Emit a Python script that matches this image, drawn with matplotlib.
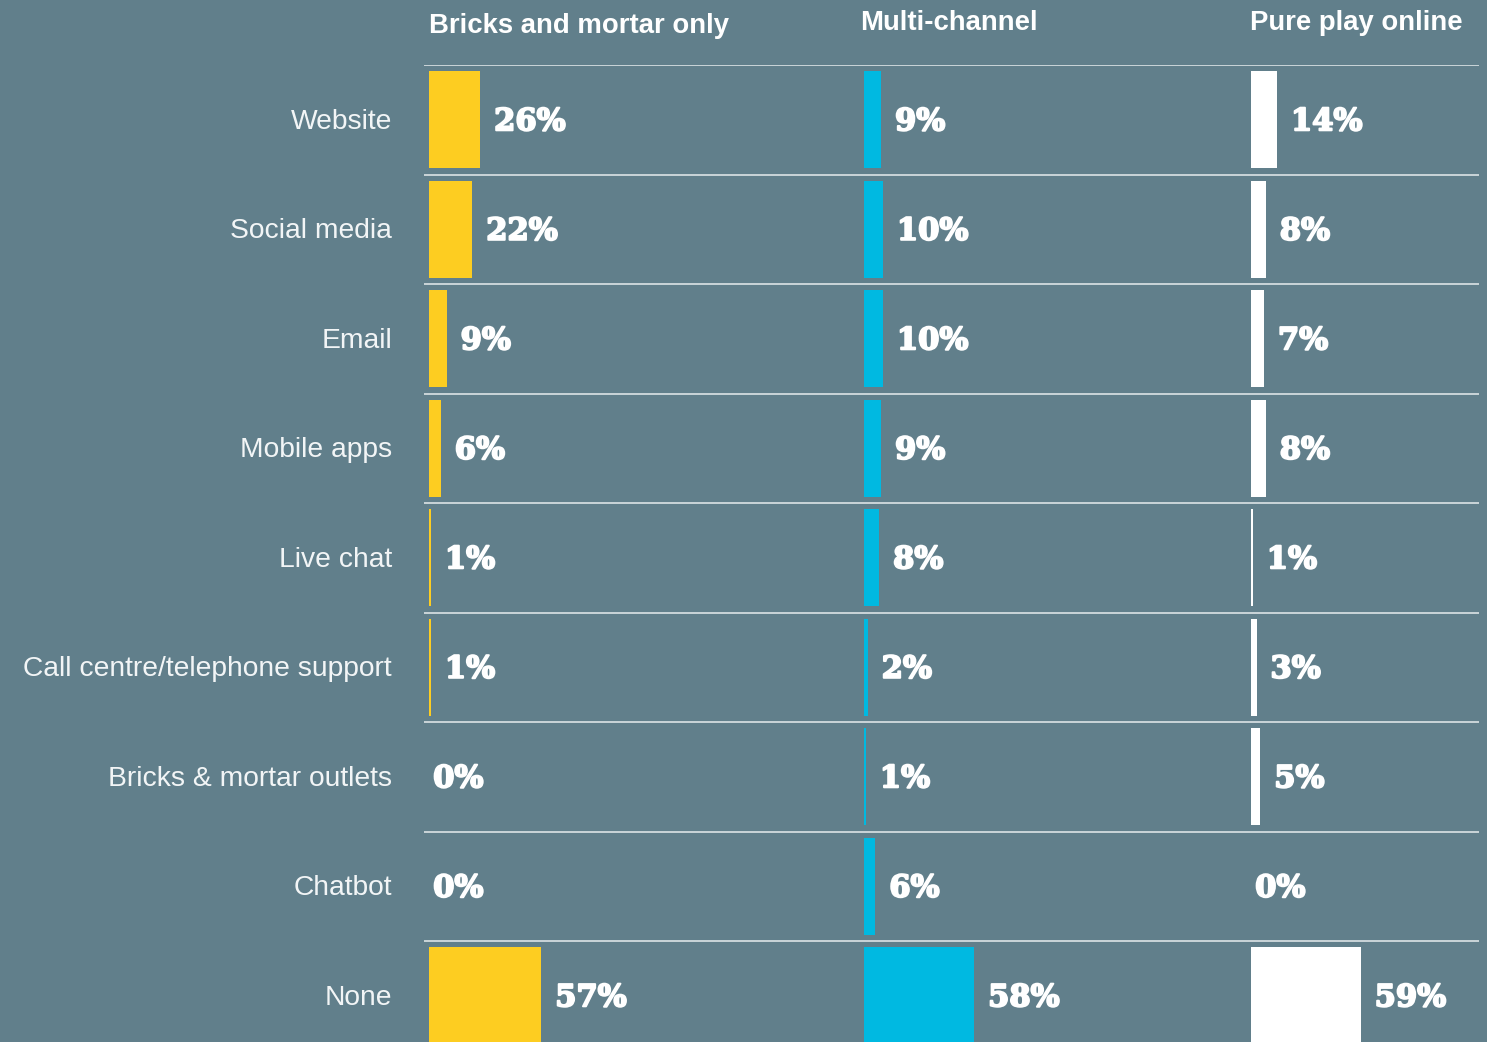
import matplotlib
matplotlib.use("Agg")
import matplotlib.pyplot as plt
import matplotlib.patheffects as pe
from matplotlib.transforms import blended_transform_factory

# Share of customer-service channels by retailer type (%)
categories = ["Website", "Social media", "Email", "Mobile apps", "Live chat",
              "Call centre/telephone support", "Bricks & mortar outlets",
              "Chatbot", "None"]
channels = ["Bricks and mortar only", "Multi-channel", "Pure play online"]
bricks_only = [26, 22, 9, 6, 1, 1, 0, 0, 57]
multi_channel = [9, 10, 10, 9, 8, 2, 1, 6, 58]
pure_play = [14, 8, 7, 8, 1, 3, 5, 0, 59]

series = [bricks_only, multi_channel, pure_play]
colors = ["#fdcd21", "#00b9e1", "#ffffff"]

BG = "#617f8b"
W, H = 1487, 1042
fig = plt.figure(figsize=(W / 100, H / 100), dpi=100, facecolor=BG)

row_top = 65
row_h = 109.5
n = len(categories)
y0 = 1 - (row_top + n * row_h) / H
hgt = n * row_h / H

# panel geometry in pixels: left edge, width, pixels per percentage point
panels = [(429, 420, 1.97), (864, 370, 1.90), (1251, 228, 1.86)]
header_x = [429, 860, 1250]
header_y = [26, 23, 23]

# background axis carrying the row separators
bg = fig.add_axes([424 / W, y0, (1479 - 424) / W, hgt])
bg.set_xlim(0, 1)
bg.set_ylim(n - 0.5, -0.5)
bg.axis("off")
for k in range(n):
    bg.axhline(k - 0.5, color="#d2dcdf", lw=1.3)

heavy = [pe.withStroke(linewidth=1.4, foreground="white")]

axes = []
for (left, width, ppp), vals, col in zip(panels, series, colors):
    ax = fig.add_axes([left / W, y0, width / W, hgt])
    ax.set_facecolor("none")
    ax.set_xlim(0, width / ppp)
    ax.set_ylim(n - 0.5, -0.5)
    ax.barh(range(n), vals, height=0.885, color=col, linewidth=0)
    for i, v in enumerate(vals):
        off = 3 if v == 0 else 10
        ax.annotate(f"{v}%", xy=(v, i), xytext=(off, -1.5),
                    textcoords="offset points", ha="left", va="center",
                    color="white", fontsize=22, fontweight="bold",
                    family="DejaVu Serif", path_effects=heavy)
    for s in ax.spines.values():
        s.set_visible(False)
    ax.set_xticks([])
    ax.set_yticks([])
    axes.append(ax)

# category labels to the left of the first panel
trans = blended_transform_factory(fig.transFigure, axes[0].transData)
for i, c in enumerate(categories):
    axes[0].annotate(c, xy=(392 / W, i), xycoords=trans, xytext=(0, -1.5),
                     textcoords="offset points", ha="right", va="center",
                     color="#f2f5f6", fontsize=20.3, family="Liberation Sans")

for x, y, name in zip(header_x, header_y, channels):
    fig.text(x / W, 1 - y / H, name, ha="left", va="center", color="white",
             fontsize=19.8, fontweight="bold", family="Liberation Sans")

fig.savefig("out.png", dpi=100, facecolor=BG)
